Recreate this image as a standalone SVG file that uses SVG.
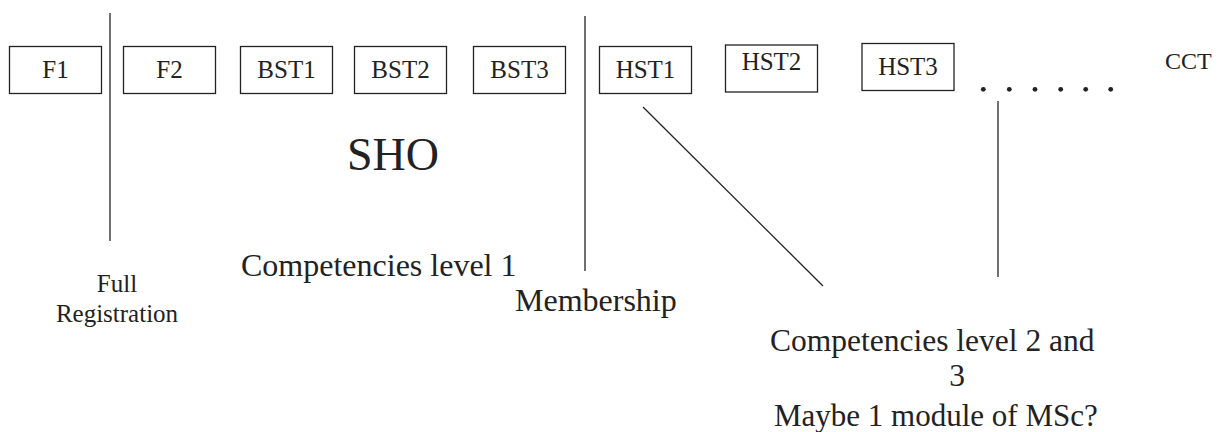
<svg xmlns="http://www.w3.org/2000/svg" width="1219" height="432" viewBox="0 0 1219 432">
<style>
.box{fill:#fff;stroke:#222;stroke-width:1.3}
.lbl{font-family:"Liberation Serif","Times New Roman",serif;font-size:25px;fill:#222;text-anchor:middle}
.txt{font-family:"Liberation Serif","Times New Roman",serif;fill:#222}
.ln{stroke:#222;stroke-width:1.3;fill:none}
</style>
<rect width="1219" height="432" fill="#fff"/>
<g id="connectors">
<line class="ln" x1="110" y1="13" x2="110" y2="241"/>
<line class="ln" x1="585" y1="16" x2="585" y2="271"/>
<line class="ln" x1="643" y1="107" x2="823" y2="286"/>
<line class="ln" x1="998" y1="101" x2="998" y2="277"/>
<g fill="#222"><circle cx="983.3" cy="89.3" r="2.4"/><circle cx="1009.3" cy="89.3" r="2.4"/><circle cx="1035" cy="89.3" r="2.4"/><circle cx="1060.7" cy="89.3" r="2.4"/><circle cx="1085.7" cy="89.3" r="2.4"/><circle cx="1110.7" cy="89.3" r="2.4"/></g>
</g>
<g id="F1"><rect class="box" x="9.5" y="46.5" width="92" height="47"/><text class="lbl" x="55.5" y="78">F1</text></g>
<g id="F2"><rect class="box" x="123.5" y="46.5" width="92" height="47"/><text class="lbl" x="169.5" y="78">F2</text></g>
<g id="BST1"><rect class="box" x="240.5" y="46.5" width="92" height="47"/><text class="lbl" x="286.5" y="78">BST1</text></g>
<g id="BST2"><rect class="box" x="354.5" y="46.5" width="92" height="47"/><text class="lbl" x="400.5" y="78">BST2</text></g>
<g id="BST3"><rect class="box" x="473.5" y="46.5" width="92" height="47"/><text class="lbl" x="519.5" y="78">BST3</text></g>
<g id="HST1"><rect class="box" x="599.5" y="46.5" width="92" height="47"/><text class="lbl" x="645.5" y="78">HST1</text></g>
<g id="HST2"><rect class="box" x="725.5" y="45" width="92" height="47"/><text class="lbl" x="771.5" y="70">HST2</text></g>
<g id="HST3"><rect class="box" x="862" y="43.5" width="92" height="47"/><text class="lbl" x="908" y="75">HST3</text></g>
<g id="CCT"><text class="txt" x="1165" y="69" font-size="24">CCT</text></g>
<g id="SHO"><text class="txt" x="393" y="170" font-size="46" text-anchor="middle">SHO</text></g>
<g id="full-registration"><text class="txt" font-size="25" text-anchor="middle"><tspan x="117" y="292">Full</tspan><tspan x="117" y="322">Registration</tspan></text></g>
<g id="competencies-1"><text class="txt" x="241" y="276" font-size="32">Competencies level 1</text></g>
<g id="membership"><text class="txt" x="515" y="311" font-size="32">Membership</text></g>
<g id="competencies-2-3"><text class="txt" font-size="31.5"><tspan x="770" y="351">Competencies level 2 and</tspan><tspan x="957" y="386" text-anchor="middle">3</tspan><tspan x="774" y="426" font-size="31">Maybe 1 module of MSc?</tspan></text></g>
</svg>
